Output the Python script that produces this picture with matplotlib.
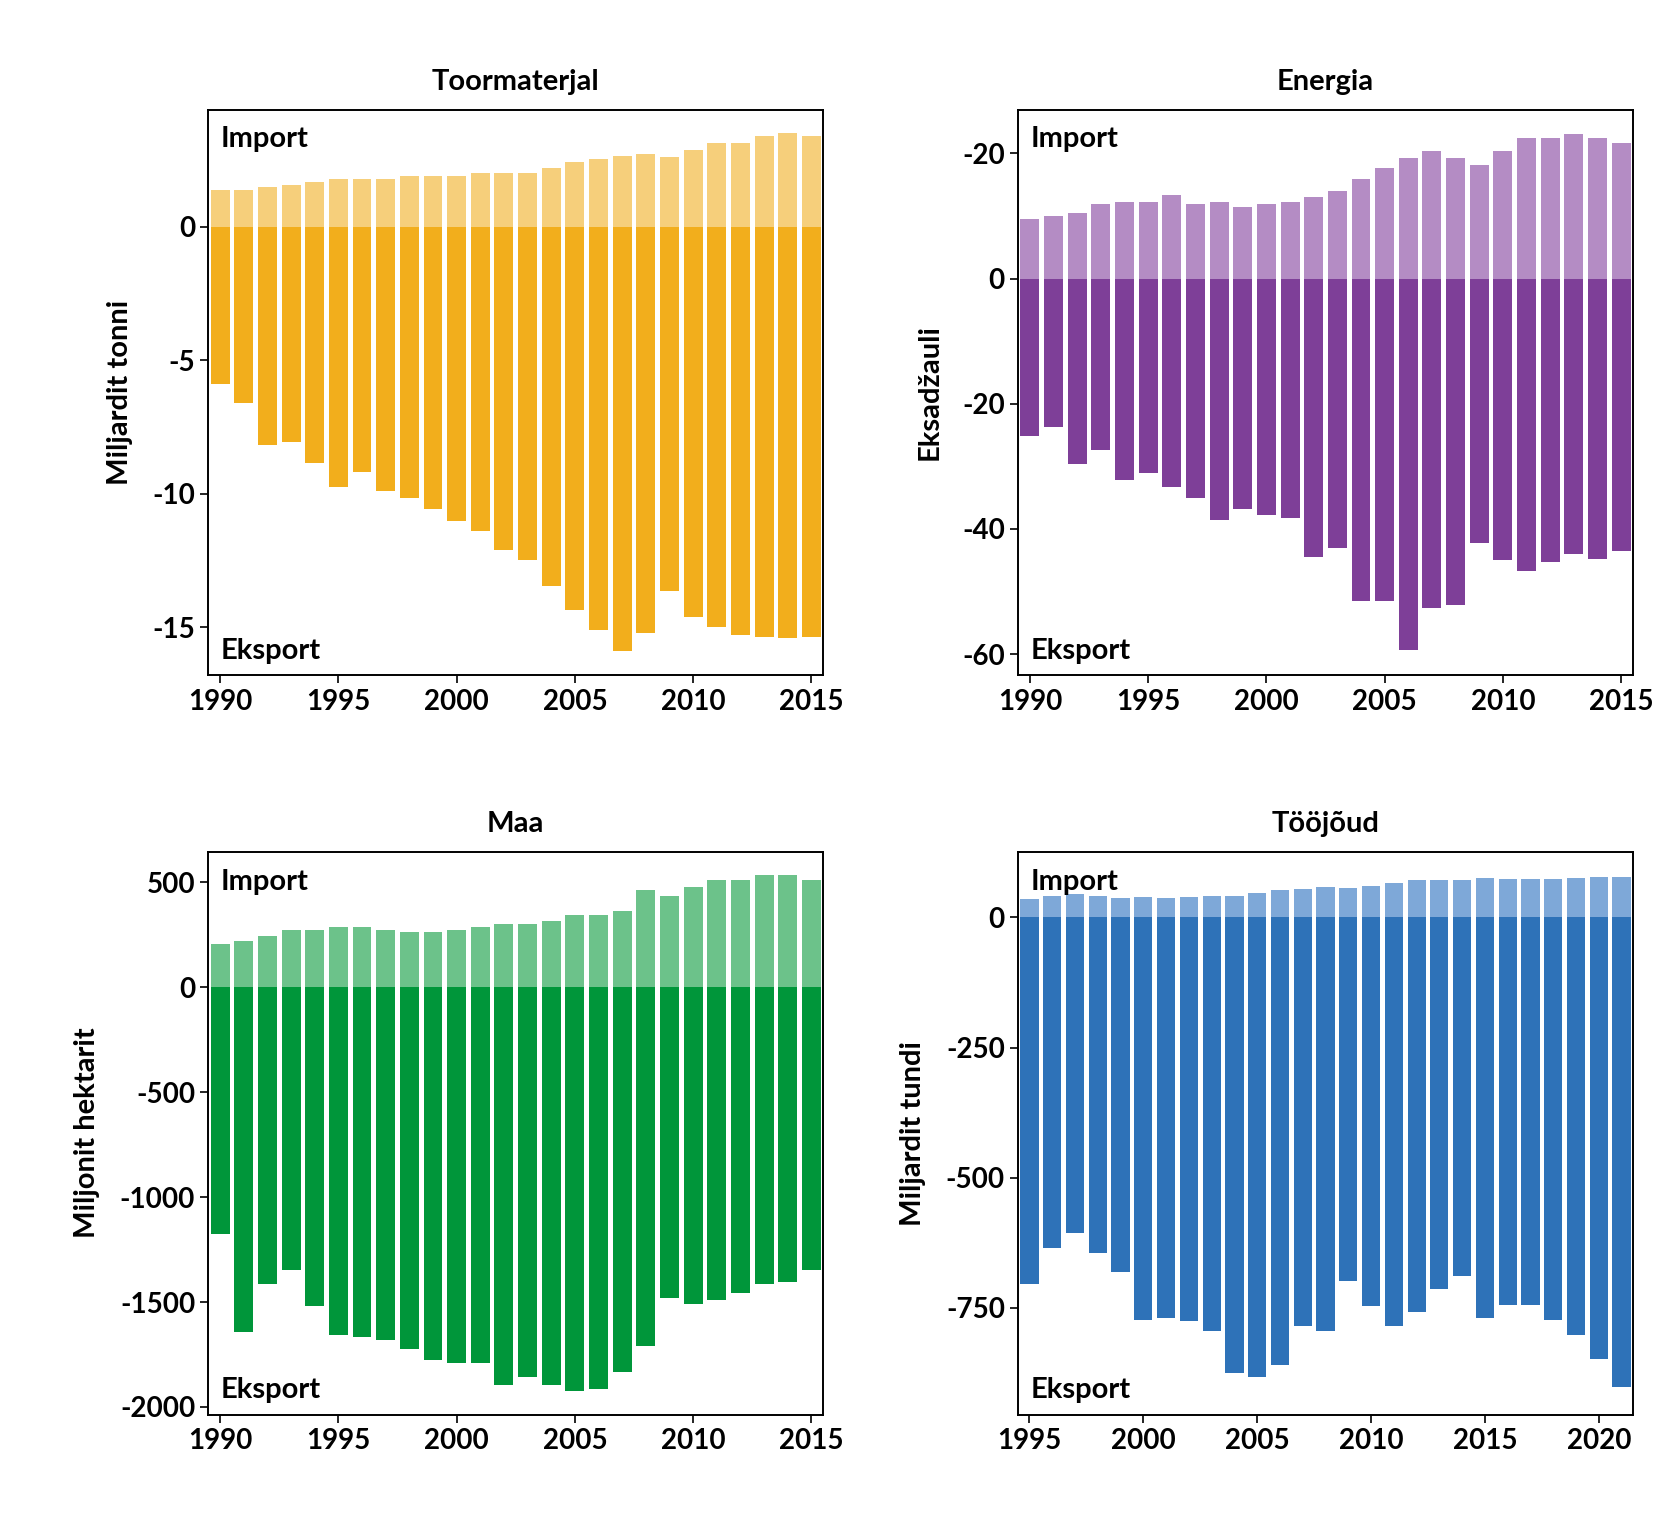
import matplotlib
matplotlib.use("Agg")
import matplotlib.pyplot as plt

plt.rcParams['font.family'] = ['Lato', 'DejaVu Sans']
plt.rcParams['font.weight'] = 'bold'

years_a = list(range(1990, 2016))
years_b = list(range(1995, 2022))

# Toormaterjal, miljardit tonni
raw_imp = [1.38, 1.38, 1.5, 1.58, 1.7, 1.78, 1.78, 1.78, 1.9, 1.9, 1.9, 2.02, 2.02,
           2.02, 2.22, 2.43, 2.55, 2.67, 2.75, 2.63, 2.87, 3.16, 3.16, 3.4, 3.52, 3.4]
raw_exp = [-5.87, -6.6, -8.18, -8.06, -8.83, -9.76, -9.19, -9.88, -10.16, -10.57, -11.0,
           -11.4, -12.1, -12.47, -13.44, -14.37, -15.1, -15.87, -15.22, -13.64, -14.6,
           -14.98, -15.3, -15.38, -15.42, -15.38]

# Energia, eksadžauli
en_imp = [9.5, 10, 10.5, 11.9, 12.2, 12.2, 13.3, 11.9, 12.2, 11.4, 11.9, 12.2, 13.1,
          14, 15.9, 17.6, 19.3, 20.3, 19.3, 18.1, 20.3, 22.4, 22.4, 23.1, 22.4, 21.7]
en_exp = [-25.2, -23.8, -29.7, -27.4, -32.2, -31, -33.3, -35, -38.6, -36.9, -37.8, -38.3,
          -44.5, -43.1, -51.6, -51.6, -59.3, -52.6, -52.1, -42.2, -45, -46.7, -45.3,
          -44, -44.8, -43.6]

# Maa, miljonit hektarit
land_imp = [205, 220, 246, 272, 272, 287, 287, 272, 262, 262, 272, 287, 303, 303, 318,
            344, 344, 364, 462, 436, 477, 513, 513, 533, 533, 513]
land_exp = [-1174, -1641, -1415, -1349, -1518, -1656, -1667, -1682, -1723, -1774, -1790,
            -1790, -1897, -1856, -1897, -1923, -1913, -1831, -1708, -1482, -1508, -1492,
            -1456, -1415, -1405, -1349]

# Tööjõud, miljardit tundi
lab_imp = [35, 41, 45, 41, 37, 39, 37, 39, 41, 41, 47, 52, 54, 58, 56, 60, 66, 72, 72,
           72, 76, 74, 74, 74, 76, 78, 78]
lab_exp = [-705, -636, -607, -645, -682, -773, -769, -775, -795, -876, -882, -860, -785,
           -795, -698, -746, -785, -758, -713, -688, -769, -744, -744, -773, -802, -849,
           -903]

panels = [
    ("Toormaterjal", "Miljardit tonni", years_a, raw_imp, raw_exp, "#F2AE1C", "#F6CF7B",
     (-16.8, 4.4), [0, -5, -10, -15], ["0", "-5", "-10", "-15"], [0.124, 0.556, 0.366, 0.372]),
    ("Energia", "Eksadžauli", years_a, en_imp, en_exp, "#7E3F98", "#B48CC4",
     (-63.4, 27), [20, 0, -20, -40, -60], ["-20", "0", "-20", "-40", "-60"], [0.606, 0.556, 0.366, 0.372]),
    ("Maa", "Miljonit hektarit", years_a, land_imp, land_exp, "#00963A", "#6CC28A",
     (-2036, 646), [500, 0, -500, -1000, -1500, -2000], ["500", "0", "-500", "-1000", "-1500", "-2000"],
     [0.124, 0.070, 0.366, 0.370]),
    ("Tööjõud", "Miljardit tundi", years_b, lab_imp, lab_exp, "#2E72B8", "#7EA8D8",
     (-955, 126), [0, -250, -500, -750], ["0", "-250", "-500", "-750"], [0.606, 0.070, 0.366, 0.370]),
]

fig = plt.figure(figsize=(16.8, 15.21), dpi=100)

for title, ylabel, yrs, imp, exp, c_exp, c_imp, ylim, ticks, tlabels, pos in panels:
    ax = fig.add_axes(pos)
    ax.bar(yrs, imp, width=0.8, color=c_imp)
    ax.bar(yrs, exp, width=0.8, color=c_exp)
    ax.set_xlim(yrs[0] - 0.5, yrs[-1] + 0.5)
    ax.set_ylim(*ylim)
    ax.set_yticks(ticks)
    ax.set_yticklabels(tlabels)
    ax.set_xticks([y for y in yrs if y % 5 == 0])
    ax.tick_params(labelsize=20, length=6, width=1.2)
    for s in ax.spines.values():
        s.set_linewidth(1.4)
    ax.set_title(title, fontsize=21, fontweight='bold', pad=14)
    ax.set_ylabel(ylabel, fontsize=21, fontweight='bold', labelpad=14)
    ax.text(0.02, 0.97, "Import", transform=ax.transAxes, fontsize=21,
            fontweight='bold', va='top', ha='left')
    ax.text(0.02, 0.02, "Eksport", transform=ax.transAxes, fontsize=21,
            fontweight='bold', va='bottom', ha='left')

fig.savefig("out.png", dpi=100)
